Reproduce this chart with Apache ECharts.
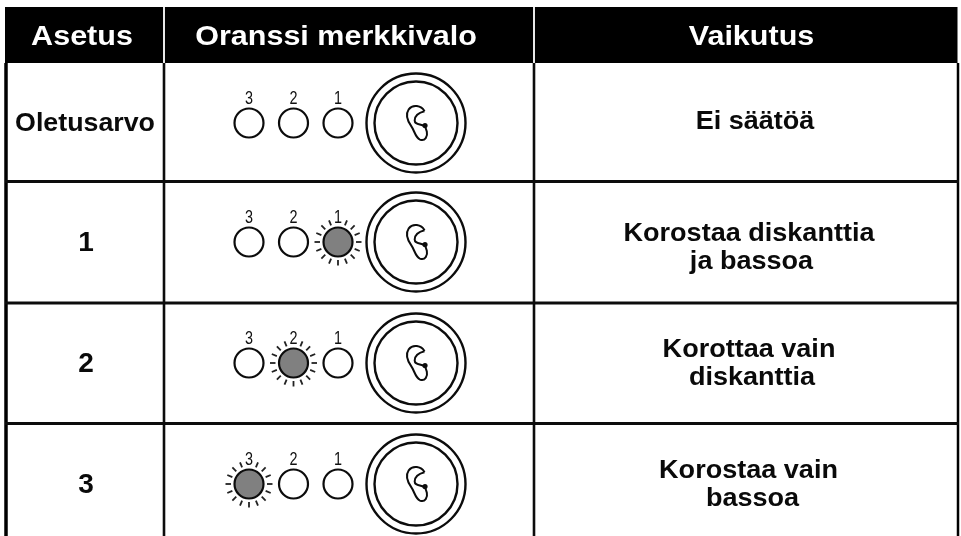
<!DOCTYPE html>
<html>
<head>
<meta charset="utf-8">
<title>Asetus</title>
<style>
  html, body { margin: 0; padding: 0; background: #fff; }
  #main { width: 961px; height: 536px; }
  /* the source is a soft, upscaled scan */
  #main canvas { filter: blur(0.45px); }
</style>
<script src="https://cdn.jsdelivr.net/npm/echarts@6/dist/echarts.min.js"></script>
</head>
<body>
<div id="main"></div>
<script>
// table content
var headers = ['Asetus', 'Oranssi merkkivalo', 'Vaikutus'];
var settings = ['Oletusarvo', '1', '2', '3'];
var ledNumbers = [3, 2, 1];
var activeLed = [0, 1, 2, 3]; // 0 = no light on
var effectLines = [
  ['Ei säätöä'],
  ['Korostaa diskanttia', 'ja bassoa'],
  ['Korottaa vain', 'diskanttia'],
  ['Korostaa vain', 'bassoa']
];

// layout, same units as the page because the axes run 0..961 and 0..536
var rowCenter = [123, 242, 363, 484];
var rowLines = [181.5, 303, 423.5];
var colLines = [164, 534];
var headerX = [82, 336, 751.5];
var ledX = [249, 293.5, 338];
var earX = 416;
var effectX = [[755], [749, 751.5], [749, 752], [748.5, 752.5]];
var effectY = [[122], [234, 262], [350, 378], [471, 499]];
var earPath = 'M88 32C78 14 52 10 40 26C28 44 38 64 48 78C58 92 60 112 74 118C90 124 98 108 95 94C93 86 91 82 88 77M88 32C72 36 58 46 58 60C58 72 72 70 88 77';

var INK = '#0c0c0c';

function label(text, x, y, size, sx, color, weight) {
  return {
    type: 'text', x: x, y: y, scaleX: sx,
    style: {
      text: text, x: 0, y: 0, fill: color,
      font: (weight || 'bold') + ' ' + size + 'px "Liberation Sans", Arial, sans-serif',
      textAlign: 'center', textVerticalAlign: 'middle'
    }
  };
}

function ring(api, x, y, r, fill, lw) {
  var p = api.coord([x, y]);
  return {
    type: 'circle', shape: { cx: p[0], cy: p[1], r: r },
    style: { fill: fill, stroke: INK, lineWidth: lw }
  };
}

function frame(params, api) {
  var c = [];
  var a = api.coord([5, 7]), b = api.coord([957.5, 63]);
  function seg(x1, y1, x2, y2, color, w) {
    var s = api.coord([x1, y1]), e = api.coord([x2, y2]);
    c.push({
      type: 'line', shape: { x1: s[0], y1: s[1], x2: e[0], y2: e[1] },
      style: { stroke: color, lineWidth: w }
    });
  }
  c.push({ type: 'rect', shape: { x: a[0], y: a[1], width: b[0] - a[0], height: b[1] - a[1] }, style: { fill: '#000' } });
  colLines.forEach(function (x) {
    seg(x, 7, x, 63, '#e8e8e8', 2);
    seg(x, 63, x, 536, INK, 2.6);
  });
  seg(6, 63, 6, 536, '#000', 3.5);
  seg(958, 63, 958, 536, '#000', 2.5);
  rowLines.forEach(function (y) { seg(5, y, 959, y, INK, 2.8); });
  headers.forEach(function (h, i) {
    c.push(label(h, headerX[i], 37, 28, 1.09, '#fff'));
  });
  return { type: 'group', children: c };
}

function tableRow(params, api) {
  var i = api.value(0);
  var cy = rowCenter[i];
  var c = [];

  c.push(i === 0
    ? label(settings[i], 85, cy + 1, 26, 1.03, '#0a0a0a')
    : label(settings[i], 86, cy + 1, 28, 1, '#0a0a0a'));

  ledNumbers.forEach(function (n, k) {
    var on = activeLed[i] === n;
    if (on) {
      var p = api.coord([ledX[k], cy]);
      for (var d = 0; d < 16; d++) {
        if (d === 12) continue; // the number sits on the top ray
        var t = d * Math.PI / 8;
        c.push({
          type: 'line',
          shape: {
            x1: p[0] + Math.cos(t) * 18, y1: p[1] + Math.sin(t) * 18,
            x2: p[0] + Math.cos(t) * 23.5, y2: p[1] + Math.sin(t) * 23.5
          },
          style: { stroke: '#222', lineWidth: 1.8 }
        });
      }
    }
    c.push(ring(api, ledX[k], cy, 14.5, on ? '#808080' : '#fff', 2.2));
    c.push(label(String(n), ledX[k], cy - 24, 18, 0.8, '#111', 'normal'));
  });

  c.push(ring(api, earX, cy, 49.5, '#fff', 2.4));
  c.push(ring(api, earX, cy, 41.5, '#fff', 2.4));
  var e = api.coord([earX, cy]);
  c.push({
    type: 'path',
    shape: { pathData: earPath, x: e[0] - 10, y: e[1] - 17, width: 22, height: 34 },
    style: { fill: 'none', stroke: INK, lineWidth: 2 }
  });
  c.push({ type: 'circle', shape: { cx: e[0] + 9, cy: e[1] + 2.5, r: 2.6 }, style: { fill: INK } });

  effectLines[i].forEach(function (t, k) {
    c.push(label(t, effectX[i][k], effectY[i][k], 26, 1.04, '#0a0a0a'));
  });
  return { type: 'group', children: c };
}

var chart = echarts.init(document.getElementById('main'), null, { renderer: 'canvas' });
chart.setOption({
  animation: false,
  backgroundColor: '#fff',
  grid: { left: 0, right: 0, top: 0, bottom: 0 },
  xAxis: { type: 'value', min: 0, max: 961, show: false },
  yAxis: { type: 'value', min: 0, max: 536, inverse: true, show: false },
  series: [
    { type: 'custom', clip: false, silent: true, data: [[0]], renderItem: frame, encode: { x: 0, y: 0 } },
    { type: 'custom', clip: false, silent: true, data: settings.map(function (s, i) { return [i]; }), renderItem: tableRow, encode: { x: 0, y: 0 } }
  ]
});
</script>
</body>
</html>
